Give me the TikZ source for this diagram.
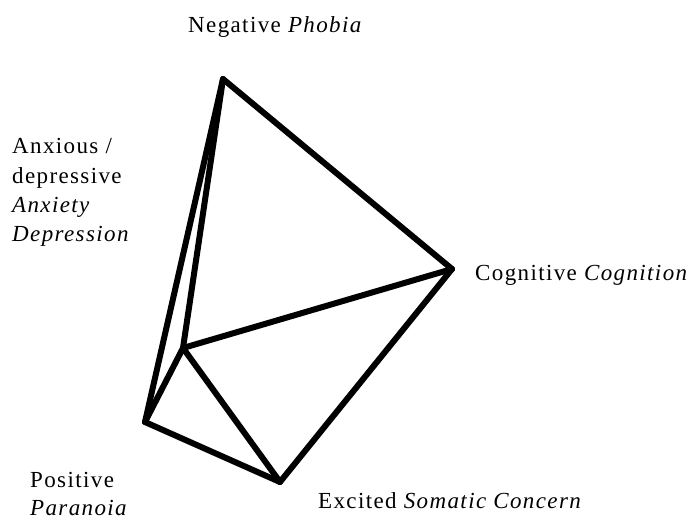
\documentclass[tikz,border=0pt]{standalone}
\usepackage{fontspec}
\setmainfont{Liberation Serif}[LetterSpace=6]
\begin{document}
\begin{tikzpicture}[x=1pt,y=-1pt,
  edge/.style={line width=6pt,line join=round,line cap=round},
  lbl/.style={inner sep=0pt,anchor=base west,font=\fontsize{23}{29}\selectfont,align=left}]
\useasboundingbox (0,0) rectangle (694,520);
\coordinate (T) at (223,79);
\coordinate (R) at (452,269);
\coordinate (I) at (183,348);
\coordinate (L) at (145,422);
\coordinate (B) at (280,482);
\draw[edge] (T) -- (R);
\draw[edge] (T) -- (I);
\draw[edge] (T) -- (L);
\draw[edge] (R) -- (I);
\draw[edge] (R) -- (B);
\draw[edge] (I) -- (L);
\draw[edge] (I) -- (B);
\draw[edge] (L) -- (B);
\node[lbl] (neg) at (188,32) {Negative \textit{Phobia}};
\node[lbl] (cog) at (475,280) {Cognitive \textit{Cognition}};
\node[lbl] (exc) at (318,508) {Excited \textit{Somatic Concern}};
\node[lbl] (anx1) at (12,153) {Anxious /};
\node[lbl] (anx2) at (12,183) {depressive};
\node[lbl] (anx3) at (12,212) {\textit{Anxiety}};
\node[lbl] (anx4) at (12,241) {\textit{Depression}};
\node[lbl] (pos1) at (30,487) {Positive};
\node[lbl] (pos2) at (30,515) {\textit{Paranoia}};
\end{tikzpicture}
\end{document}
